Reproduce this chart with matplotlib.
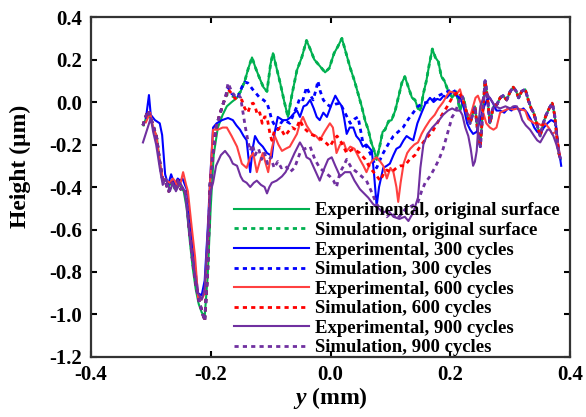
import matplotlib
matplotlib.use("Agg")
from matplotlib import pyplot as plt

plt.rcParams['font.family'] = ['Liberation Serif', 'DejaVu Serif']
plt.rcParams['font.weight'] = 'bold'
plt.rcParams['axes.unicode_minus'] = False
plt.rcParams['mathtext.fontset'] = 'custom'
plt.rcParams['mathtext.it'] = 'Liberation Serif:italic:bold'
plt.rcParams['mathtext.rm'] = 'Liberation Serif:bold'

# shared parts (y in mm, height in um)
sim_head = [(-0.313, -0.11), (-0.305, -0.04), (-0.300, -0.075), (-0.295, -0.12), (-0.290, -0.17),
            (-0.285, -0.28), (-0.280, -0.37), (-0.275, -0.38), (-0.270, -0.42), (-0.265, -0.38),
            (-0.260, -0.41), (-0.255, -0.37), (-0.250, -0.41), (-0.245, -0.40), (-0.240, -0.45),
            (-0.235, -0.62), (-0.230, -0.75), (-0.225, -0.85), (-0.220, -0.93), (-0.215, -0.98),
            (-0.210, -1.03), (-0.205, -0.80), (-0.201, -0.39), (-0.196, -0.24), (-0.191, -0.12),
            (-0.185, -0.06), (-0.180, -0.015), (-0.175, 0.025)]

sim_tail = [(0.228, -0.06), (0.233, -0.10), (0.238, -0.05), (0.241, -0.02), (0.245, -0.12),
            (0.250, -0.21), (0.254, -0.05), (0.258, 0.10), (0.262, 0.02), (0.266, -0.10),
            (0.272, -0.02), (0.278, -0.01), (0.283, 0.02), (0.288, 0.03), (0.294, 0.01),
            (0.300, 0.05), (0.305, 0.07), (0.310, 0.05), (0.314, 0.02), (0.319, 0.05),
            (0.325, 0.06), (0.330, 0.01), (0.335, -0.03), (0.339, -0.05), (0.344, -0.10),
            (0.350, -0.16), (0.355, -0.10), (0.360, -0.06), (0.365, -0.03), (0.370, -0.005),
            (0.374, -0.06), (0.378, -0.17), (0.381, -0.24), (0.384, -0.27)]

green_mid = [(-0.171, 0.04), (-0.165, 0.03), (-0.158, 0.02), (-0.150, 0.05), (-0.143, 0.10),
             (-0.137, 0.16), (-0.131, 0.21), (-0.125, 0.16), (-0.118, 0.11), (-0.112, 0.07),
             (-0.106, 0.05), (-0.100, 0.18), (-0.096, 0.23), (-0.090, 0.16), (-0.084, 0.09),
             (-0.077, 0.00), (-0.071, -0.07), (-0.064, 0.04), (-0.056, 0.15), (-0.048, 0.21),
             (-0.040, 0.29), (-0.034, 0.25), (-0.027, 0.20), (-0.018, 0.17), (-0.009, 0.14),
             (-0.002, 0.16), (0.006, 0.23), (0.012, 0.26), (0.019, 0.30), (0.026, 0.23),
             (0.033, 0.16), (0.040, 0.10), (0.046, 0.04), (0.052, -0.02), (0.058, -0.09),
             (0.063, -0.13), (0.068, -0.19), (0.073, -0.23), (0.077, -0.27), (0.082, -0.21),
             (0.087, -0.14), (0.091, -0.13), (0.097, -0.09), (0.102, -0.085), (0.108, -0.04),
             (0.114, 0.03), (0.119, 0.09), (0.124, 0.12), (0.130, 0.07), (0.136, 0.02),
             (0.141, 0.01), (0.146, -0.03), (0.150, -0.04), (0.155, 0.04), (0.160, 0.10),
             (0.165, 0.18), (0.170, 0.25), (0.175, 0.21), (0.180, 0.19), (0.185, 0.12),
             (0.190, 0.10), (0.196, 0.055), (0.203, 0.02), (0.210, 0.05), (0.216, -0.04),
             (0.222, 0.02)]

green_exp = [(-0.312, -0.11), (-0.305, -0.05), (-0.300, -0.08), (-0.295, -0.13), (-0.290, -0.16),
             (-0.285, -0.28), (-0.280, -0.37), (-0.275, -0.36), (-0.270, -0.40), (-0.265, -0.37),
             (-0.260, -0.41), (-0.255, -0.38), (-0.250, -0.40), (-0.245, -0.42), (-0.240, -0.50),
             (-0.235, -0.65), (-0.230, -0.78), (-0.225, -0.88), (-0.220, -0.95), (-0.215, -0.99),
             (-0.210, -1.01), (-0.205, -0.82), (-0.200, -0.50), (-0.195, -0.25), (-0.188, -0.12),
             (-0.180, -0.06), (-0.173, -0.02), (-0.165, 0.00), (-0.156, 0.02)] + green_mid[3:] + sim_tail
green_sim = sim_head + green_mid + sim_tail

blue_exp = [(-0.308, -0.075), (-0.303, 0.033), (-0.300, -0.06), (-0.293, -0.085), (-0.285, -0.10),
            (-0.281, -0.155), (-0.276, -0.34), (-0.271, -0.39), (-0.266, -0.34), (-0.260, -0.39),
            (-0.255, -0.36), (-0.251, -0.37), (-0.247, -0.36), (-0.243, -0.39), (-0.240, -0.41),
            (-0.235, -0.55), (-0.230, -0.68), (-0.225, -0.80), (-0.221, -0.90), (-0.215, -0.91),
            (-0.210, -0.84), (-0.205, -0.60), (-0.201, -0.37), (-0.196, -0.12), (-0.190, -0.10),
            (-0.181, -0.085), (-0.171, -0.075), (-0.163, -0.085), (-0.157, -0.11), (-0.151, -0.13),
            (-0.145, -0.16), (-0.140, -0.18), (-0.137, -0.26), (-0.134, -0.33), (-0.130, -0.22),
            (-0.126, -0.16), (-0.120, -0.19), (-0.113, -0.21), (-0.106, -0.24), (-0.100, -0.25),
            (-0.098, -0.26), (-0.093, -0.14), (-0.088, -0.07), (-0.080, -0.085), (-0.073, -0.085),
            (-0.066, -0.07), (-0.060, -0.05), (-0.056, -0.04), (-0.051, -0.07), (-0.045, -0.02),
            (-0.040, -0.014), (-0.034, 0.01), (-0.028, -0.03), (-0.023, -0.07), (-0.018, -0.085),
            (-0.012, -0.05), (-0.006, -0.07), (0.002, -0.01), (0.008, 0.03), (0.014, 0.00),
            (0.019, -0.02), (0.023, -0.08), (0.027, -0.15), (0.032, -0.12), (0.038, -0.12),
            (0.043, -0.16), (0.049, -0.18), (0.054, -0.21), (0.060, -0.20), (0.066, -0.22),
            (0.069, -0.23), (0.073, -0.35), (0.077, -0.49), (0.081, -0.40), (0.088, -0.31),
            (0.094, -0.30), (0.099, -0.29), (0.105, -0.25), (0.110, -0.22), (0.116, -0.21),
            (0.122, -0.18), (0.127, -0.16), (0.132, -0.17), (0.138, -0.18), (0.145, -0.10),
            (0.152, -0.05), (0.158, -0.01), (0.166, 0.02), (0.172, 0.00), (0.178, 0.015),
            (0.183, 0.01), (0.189, 0.03), (0.194, 0.02), (0.200, 0.04), (0.205, 0.05),
            (0.210, 0.03), (0.216, 0.02), (0.222, -0.02), (0.228, -0.10), (0.233, -0.13),
            (0.238, -0.15), (0.244, -0.14), (0.250, -0.08), (0.255, -0.03), (0.261, 0.01),
            (0.266, 0.02), (0.272, -0.01), (0.277, -0.04), (0.283, -0.04), (0.290, -0.05),
            (0.296, -0.03), (0.302, -0.04), (0.308, -0.02), (0.316, -0.04), (0.322, -0.03),
            (0.328, -0.05), (0.334, -0.08), (0.340, -0.12), (0.345, -0.14), (0.350, -0.15),
            (0.356, -0.12), (0.362, -0.10), (0.368, -0.085), (0.372, -0.09), (0.376, -0.10),
            (0.380, -0.20), (0.385, -0.30)]

blue_sim = sim_head + [
    (-0.171, 0.07), (-0.165, 0.04), (-0.160, 0.03), (-0.155, 0.02), (-0.148, 0.07),
    (-0.143, 0.094), (-0.138, 0.09), (-0.130, 0.06), (-0.124, 0.04), (-0.118, 0.02),
    (-0.112, 0.01), (-0.106, -0.005), (-0.102, -0.04), (-0.098, -0.085), (-0.093, -0.11),
    (-0.088, -0.13), (-0.083, -0.10), (-0.079, -0.085), (-0.074, -0.09), (-0.068, -0.10),
    (-0.062, -0.06), (-0.056, -0.02), (-0.051, 0.02), (-0.046, 0.01), (-0.040, 0.07),
    (-0.035, 0.04), (-0.029, 0.01), (-0.024, 0.06), (-0.021, 0.10), (-0.017, 0.05),
    (-0.012, 0.01), (-0.006, -0.01), (-0.001, -0.02), (0.008, -0.01), (0.016, -0.005),
    (0.024, -0.05), (0.033, -0.10), (0.040, -0.08), (0.046, -0.07), (0.054, -0.19),
    (0.060, -0.21), (0.066, -0.24), (0.072, -0.28), (0.077, -0.31), (0.083, -0.27),
    (0.088, -0.24), (0.096, -0.20), (0.105, -0.16), (0.113, -0.14), (0.121, -0.12),
    (0.130, -0.08), (0.138, -0.05), (0.146, -0.02), (0.155, -0.005), (0.163, 0.00),
    (0.171, 0.01), (0.180, 0.03), (0.188, 0.04), (0.196, 0.05), (0.205, 0.06),
    (0.212, 0.03), (0.220, 0.00)] + sim_tail

red_exp = [(-0.308, -0.095), (-0.301, -0.05), (-0.296, -0.12), (-0.291, -0.155), (-0.285, -0.28),
           (-0.280, -0.36), (-0.274, -0.37), (-0.268, -0.38), (-0.263, -0.36), (-0.260, -0.37),
           (-0.255, -0.40), (-0.251, -0.39), (-0.246, -0.33), (-0.241, -0.39), (-0.238, -0.42),
           (-0.232, -0.58), (-0.226, -0.73), (-0.221, -0.92), (-0.215, -0.93), (-0.210, -0.90),
           (-0.205, -0.65), (-0.201, -0.38), (-0.196, -0.13), (-0.188, -0.13), (-0.180, -0.12),
           (-0.173, -0.12), (-0.165, -0.16), (-0.156, -0.21), (-0.148, -0.29), (-0.140, -0.31),
           (-0.134, -0.26), (-0.129, -0.24), (-0.123, -0.33), (-0.118, -0.28), (-0.113, -0.24),
           (-0.108, -0.29), (-0.104, -0.33), (-0.098, -0.22), (-0.093, -0.16), (-0.087, -0.20),
           (-0.081, -0.23), (-0.075, -0.22), (-0.068, -0.21), (-0.062, -0.18), (-0.056, -0.15),
           (-0.051, -0.10), (-0.046, -0.07), (-0.040, -0.11), (-0.031, -0.15), (-0.024, -0.16),
           (-0.018, -0.18), (-0.010, -0.14), (-0.001, -0.10), (0.004, -0.12), (0.010, -0.24),
           (0.016, -0.20), (0.022, -0.19), (0.027, -0.23), (0.033, -0.21), (0.040, -0.22),
           (0.049, -0.27), (0.055, -0.30), (0.060, -0.33), (0.066, -0.29), (0.072, -0.27),
           (0.077, -0.26), (0.083, -0.28), (0.088, -0.30), (0.094, -0.36), (0.100, -0.31),
           (0.105, -0.33), (0.110, -0.40), (0.113, -0.47), (0.117, -0.38), (0.122, -0.29),
           (0.128, -0.24), (0.133, -0.22), (0.140, -0.20), (0.146, -0.19), (0.152, -0.15),
           (0.158, -0.12), (0.166, -0.085), (0.174, -0.06), (0.180, -0.03), (0.188, 0.00),
           (0.194, 0.03), (0.199, 0.05), (0.205, 0.045), (0.211, 0.04), (0.216, 0.06),
           (0.222, 0.00), (0.228, -0.05), (0.233, -0.07), (0.238, -0.02), (0.242, 0.02),
           (0.246, 0.03), (0.250, 0.00), (0.255, -0.05), (0.260, -0.10), (0.266, -0.12),
           (0.272, -0.13), (0.277, -0.12), (0.283, -0.05), (0.290, -0.04), (0.298, -0.03),
           (0.305, -0.035), (0.312, -0.03), (0.318, -0.035), (0.325, -0.04), (0.330, -0.08),
           (0.335, -0.09), (0.340, -0.10), (0.346, -0.10), (0.352, -0.11), (0.358, -0.10),
           (0.364, -0.12), (0.370, -0.15), (0.376, -0.14), (0.380, -0.20), (0.383, -0.26)]

red_sim = sim_head + [
    (-0.171, 0.06), (-0.165, 0.04), (-0.160, 0.02), (-0.156, 0.01), (-0.148, 0.01),
    (-0.143, -0.03), (-0.138, -0.05), (-0.133, -0.01), (-0.129, -0.005), (-0.126, -0.02),
    (-0.122, -0.06), (-0.118, -0.05), (-0.114, -0.10), (-0.110, -0.07), (-0.106, -0.07),
    (-0.101, -0.15), (-0.098, -0.18), (-0.093, -0.13), (-0.088, -0.13), (-0.084, -0.12),
    (-0.076, -0.16), (-0.068, -0.13), (-0.064, -0.12), (-0.058, -0.13), (-0.051, -0.085),
    (-0.045, -0.12), (-0.034, -0.15), (-0.026, -0.16), (-0.018, -0.17), (-0.012, -0.18),
    (-0.001, -0.21), (0.005, -0.18), (0.011, -0.16), (0.018, -0.19), (0.027, -0.24),
    (0.038, -0.22), (0.049, -0.24), (0.058, -0.27), (0.066, -0.31), (0.075, -0.34),
    (0.083, -0.37), (0.090, -0.33), (0.094, -0.32), (0.102, -0.33), (0.110, -0.31),
    (0.117, -0.30), (0.124, -0.30), (0.132, -0.27), (0.141, -0.25), (0.147, -0.22),
    (0.152, -0.20), (0.160, -0.17), (0.170, -0.14), (0.178, -0.10), (0.186, -0.06),
    (0.195, -0.02), (0.203, 0.02), (0.213, 0.05), (0.220, 0.02)] + sim_tail

purple_exp = [(-0.313, -0.19), (-0.305, -0.12), (-0.300, -0.075), (-0.296, -0.14), (-0.291, -0.20),
              (-0.285, -0.31), (-0.280, -0.39), (-0.275, -0.36), (-0.268, -0.42), (-0.263, -0.38),
              (-0.258, -0.42), (-0.251, -0.38), (-0.247, -0.40), (-0.243, -0.42), (-0.238, -0.55),
              (-0.232, -0.70), (-0.226, -0.82), (-0.221, -0.90), (-0.215, -0.93), (-0.210, -0.88),
              (-0.205, -0.62), (-0.200, -0.42), (-0.196, -0.38), (-0.191, -0.30), (-0.183, -0.25),
              (-0.176, -0.23), (-0.168, -0.26), (-0.163, -0.29), (-0.156, -0.30), (-0.150, -0.35),
              (-0.146, -0.37), (-0.140, -0.38), (-0.134, -0.40), (-0.128, -0.38), (-0.123, -0.37),
              (-0.116, -0.39), (-0.110, -0.40), (-0.106, -0.43), (-0.102, -0.40), (-0.098, -0.38),
              (-0.090, -0.37), (-0.081, -0.35), (-0.075, -0.33), (-0.068, -0.29), (-0.060, -0.24),
              (-0.051, -0.19), (-0.045, -0.22), (-0.040, -0.26), (-0.034, -0.27), (-0.026, -0.32),
              (-0.018, -0.37), (-0.010, -0.31), (-0.004, -0.27), (0.002, -0.26), (0.008, -0.30),
              (0.016, -0.35), (0.024, -0.33), (0.033, -0.33), (0.040, -0.37), (0.049, -0.41),
              (0.056, -0.43), (0.063, -0.45), (0.071, -0.48), (0.080, -0.50), (0.088, -0.52),
              (0.096, -0.51), (0.105, -0.54), (0.115, -0.55), (0.124, -0.54), (0.130, -0.56),
              (0.138, -0.52), (0.146, -0.45), (0.150, -0.31), (0.155, -0.20), (0.162, -0.15),
              (0.170, -0.12), (0.180, -0.09), (0.188, -0.06), (0.196, -0.04), (0.203, -0.03),
              (0.210, -0.04), (0.216, -0.04), (0.220, -0.06), (0.225, -0.12), (0.230, -0.16),
              (0.234, -0.22), (0.238, -0.30), (0.241, -0.28), (0.244, -0.23), (0.247, -0.10),
              (0.250, -0.02), (0.255, 0.02), (0.261, 0.04), (0.268, 0.01), (0.275, -0.02),
              (0.283, -0.03), (0.292, -0.02), (0.300, -0.03), (0.305, -0.02), (0.311, -0.02),
              (0.316, -0.05), (0.320, -0.085), (0.326, -0.11), (0.333, -0.13), (0.340, -0.16),
              (0.345, -0.18), (0.350, -0.19), (0.356, -0.16), (0.362, -0.13), (0.366, -0.13),
              (0.372, -0.16), (0.377, -0.20), (0.381, -0.24)]

purple_sim = sim_head + [
    (-0.171, 0.09), (-0.165, 0.05), (-0.160, 0.03), (-0.155, 0.04), (-0.150, 0.02),
    (-0.146, -0.05), (-0.142, -0.12), (-0.138, -0.18), (-0.134, -0.23), (-0.130, -0.20),
    (-0.126, -0.25), (-0.120, -0.22), (-0.115, -0.27), (-0.110, -0.24), (-0.105, -0.29),
    (-0.100, -0.26), (-0.094, -0.31), (-0.088, -0.28), (-0.082, -0.31), (-0.075, -0.30),
    (-0.068, -0.33), (-0.060, -0.31), (-0.051, -0.24), (-0.043, -0.22), (-0.034, -0.21),
    (-0.026, -0.27), (-0.018, -0.31), (-0.010, -0.33), (-0.001, -0.35), (0.005, -0.37),
    (0.010, -0.40), (0.016, -0.33), (0.022, -0.30), (0.027, -0.27), (0.035, -0.31),
    (0.044, -0.33), (0.052, -0.35), (0.060, -0.37), (0.068, -0.42), (0.077, -0.48),
    (0.085, -0.51), (0.094, -0.54), (0.102, -0.52), (0.110, -0.55), (0.118, -0.53),
    (0.126, -0.50), (0.135, -0.49), (0.141, -0.48), (0.146, -0.47), (0.152, -0.42),
    (0.158, -0.38), (0.166, -0.35), (0.174, -0.31), (0.181, -0.27), (0.188, -0.22),
    (0.196, -0.14), (0.203, -0.07), (0.208, -0.05), (0.214, 0.00), (0.220, 0.03)] + sim_tail

series = [
    (green_exp, '#00B050', '-', 'Experimental, original surface'),
    (green_sim, '#00B050', ':', 'Simulation, original surface'),
    (blue_exp, '#0000FF', '-', 'Experimental, 300 cycles'),
    (blue_sim, '#0000FF', ':', 'Simulation, 300 cycles'),
    (red_exp, '#FF4040', '-', 'Experimental, 600 cycles'),
    (red_sim, '#FF0000', ':', 'Simulation, 600 cycles'),
    (purple_exp, '#7030A0', '-', 'Experimental, 900 cycles'),
    (purple_sim, '#7030A0', ':', 'Simulation, 900 cycles'),
]

fig = plt.figure(figsize=(5.86, 4.17), dpi=100)
ax = fig.add_axes([0.155, 0.144, 0.818, 0.815])

for pts, col, ls, lab in series:
    xs, ys = zip(*pts)
    if ls == '-':
        ax.plot(xs, ys, color=col, lw=1.5, label=lab)
    else:
        ax.plot(xs, ys, color=col, lw=2.0, linestyle=(0, (1.5, 1.5)), label=lab)

ax.set_xlim(-0.4, 0.4)
ax.set_ylim(-1.2, 0.4)
ax.set_xticks([-0.4, -0.2, 0.0, 0.2, 0.4])
ax.set_yticks([-1.2, -1.0, -0.8, -0.6, -0.4, -0.2, 0.0, 0.2, 0.4])
ax.set_xticklabels(['-0.4', '-0.2', '0.0', '0.2', '0.4'])
ax.set_yticklabels(['-1.2', '-1.0', '-0.8', '-0.6', '-0.4', '-0.2', '0.0', '0.2', '0.4'])
ax.tick_params(direction='in', length=4, width=1.5, labelsize=15, top=True, right=True)
ax.tick_params(axis='y', pad=6)
ax.tick_params(axis='x', pad=6)
for s in ax.spines.values():
    s.set_linewidth(1.6)
    s.set_color('#333333')

ax.set_xlabel(r'$y$ (mm)', fontsize=17, fontweight='bold', labelpad=0)
ax.set_ylabel('Height (\u03bcm)', fontsize=17, fontweight='bold')
ax.yaxis.set_label_coords(-0.125, 0.56)

ax.legend(loc='upper left', bbox_to_anchor=(0.298, 0.455), frameon=False, fontsize=13.5,
          handlelength=4.0, handletextpad=0.35, labelspacing=0.13, borderpad=0, borderaxespad=0)

fig.savefig('out.png', dpi=100)
